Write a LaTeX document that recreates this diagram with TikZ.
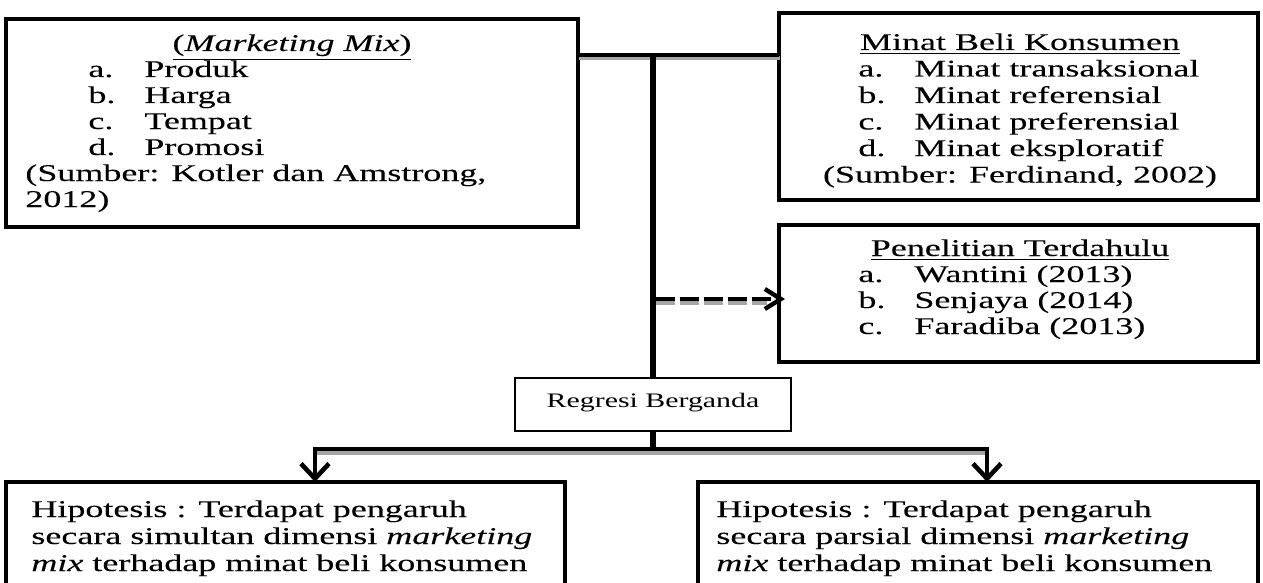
\documentclass[tikz,border=0pt]{standalone}
\usepackage{fontspec}
\setmainfont{Liberation Serif}[FakeStretch=1.5,FakeBold=0.1]
\newfontfamily\rgfont{Liberation Serif}[FakeStretch=1.45]
\usetikzlibrary{arrows.meta}
\begin{document}
\begin{tikzpicture}[x=0.5pt,y=-0.5pt,font=\fontsize{12}{13}\selectfont,
  box/.style={draw,line width=2.4pt,inner sep=0pt,outer sep=0pt,anchor=north west},
  thinbox/.style={draw,line width=0.9pt,inner sep=0pt,outer sep=0pt,anchor=north west},
  txt/.style={anchor=base west,inner sep=0pt},
  ctxt/.style={anchor=base,inner sep=0pt},
  conn/.style={line width=2.3pt},
  shade/.style={draw=black!35,line width=2pt},
  arr/.style={conn,-{Straight Barb[length=7.5pt,width=14pt]}},
  dasharrow/.style={line width=2.2pt,dash pattern=on 9.5pt off 2.5pt,-{Straight Barb[length=8pt,width=10pt]}}]
\useasboundingbox (0,0) rectangle (1263,583);
\clip (0,0) rectangle (1263,583);
% boxes
\node[box,minimum width=286pt,minimum height=104pt] (mm) at (6,19) {};
\node[box,minimum width=239.5pt,minimum height=93.5pt] (mb) at (779,13) {};
\node[box,minimum width=239.5pt,minimum height=68.5pt] (pt) at (779,225) {};
\node[thinbox,minimum width=138pt,minimum height=26.5pt] (rg) at (515,378) {};
\node[box,minimum width=279.5pt,minimum height=79pt] (h1) at (6,482) {};
\node[box,minimum width=280pt,minimum height=79pt] (h2) at (698,482) {};
% coordinates
\coordinate (j1) at (653,55);
\coordinate (d0) at (656,299);
\coordinate (j2) at (653,449);
\coordinate (j2l) at (315,449);
\coordinate (j2r) at (987,449);
% shadows
\draw[shade] ([shift={(1,3.5)}]mm.east |- j1) -- ([shift={(1,3.5)}]mb.west |- j1);
\draw[shade] ([shift={(1,3.5)}]j2l) -- ([shift={(1,3.5)}]j2r);
\draw[shade,dash pattern=on 9.5pt off 2.5pt] ([shift={(0,3.5)}]d0) -- ([shift={(-12,3.5)}]pt.west |- d0);
% connectors
\draw[conn] (mm.east |- j1) -- (mb.west |- j1);
\draw[conn,line width=2.8pt] (j1) -- (rg.north);
\draw[conn,line width=2.8pt] (rg.south) -- (j2);
\draw[arr] (j2r) -- (j2l) -- (h1.north -| j2l);
\draw[arr] (j2l) -- (j2r) -- (h2.north -| j2r);
\draw[dasharrow,shorten >=-3pt] (d0) -- (pt.west |- d0);
% box 1 text
\node[ctxt] (t1) at (292,51) {\underline{(\textit{Marketing Mix})}};
\node[txt] (t1a) at (88,77) {a.};   \node[txt] (t1ai) at (144,77) {Produk};
\node[txt] (t1b) at (88,103) {b.};  \node[txt] (t1bi) at (144,103) {Harga};
\node[txt] (t1c) at (88,129) {c.};  \node[txt] (t1ci) at (144,129) {Tempat};
\node[txt] (t1d) at (88,155) {d.};  \node[txt] (t1di) at (144,155) {Promosi};
\node[txt] (t1s) at (25,181) {(Sumber: Kotler dan Amstrong,};
\node[txt] (t1y) at (25,207) {2012)};
% box 2 text
\node[ctxt] (t2) at (1020,50) {\underline{Minat Beli Konsumen}};
\node[txt] (t2a) at (858,76.5) {a.}; \node[txt] (t2ai) at (914,76.5) {Minat transaksional};
\node[txt] (t2b) at (858,103) {b.};  \node[txt] (t2bi) at (914,103) {Minat referensial};
\node[txt] (t2c) at (858,129.5) {c.};\node[txt] (t2ci) at (914,129.5) {Minat preferensial};
\node[txt] (t2d) at (858,156) {d.};  \node[txt] (t2di) at (914,156) {Minat eksploratif};
\node[ctxt] (t2s) at (1020,182.5) {(Sumber: Ferdinand, 2002)};
% box 3 text
\node[ctxt] (t3) at (1020,256) {\underline{Penelitian Terdahulu}};
\node[txt] (t3a) at (858,282) {a.}; \node[txt] (t3ai) at (914,282) {Wantini (2013)};
\node[txt] (t3b) at (858,308) {b.}; \node[txt] (t3bi) at (914,308) {Senjaya (2014)};
\node[txt] (t3c) at (858,334) {c.}; \node[txt] (t3ci) at (914,334) {Faradiba (2013)};
% regresi
\node[ctxt,font=\rgfont\fontsize{10.3}{12}\selectfont] (trg) at (653,407) {Regresi Berganda};
% hypotheses
\node[txt] (h1a) at (31,517) {Hipotesis : Terdapat pengaruh};
\node[txt] (h1b) at (31,544) {secara simultan dimensi \textit{marketing}};
\node[txt] (h1c) at (31,571) {\textit{mix} terhadap minat beli konsumen};
\node[txt] (h2a) at (716,517) {Hipotesis : Terdapat pengaruh};
\node[txt] (h2b) at (716,544) {secara parsial dimensi \textit{marketing}};
\node[txt] (h2c) at (716,571) {\textit{mix} terhadap minat beli konsumen};
\end{tikzpicture}
\end{document}
